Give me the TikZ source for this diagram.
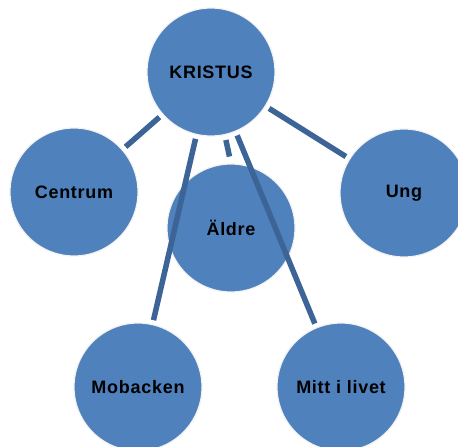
\documentclass[tikz,border=0pt]{standalone}
\usepackage{fontspec}
\setmainfont{Liberation Sans}
\definecolor{circfill}{HTML}{4F81BD}
\definecolor{linkcol}{HTML}{3C6496}
\begin{document}
\begin{tikzpicture}[x=1pt,y=-1pt,
  bubble/.style={circle,fill=circfill,draw=black!5,line width=1.2pt,minimum size=128pt,inner sep=0pt,
    font=\addfontfeatures{LetterSpace=4}\fontsize{18}{21}\selectfont\bfseries,text=black},
  link/.style={draw=linkcol,line width=5.5pt,shorten <=4pt,shorten >=4pt}]
\useasboundingbox (0,0) rectangle (458,447);
\clip (0,0) rectangle (458,447);
\node[bubble] (K) at (211,72) {KRISTUS};
\node[bubble] (C) at (74,192) {Centrum};
\node[bubble] (A) at (231,228) {Äldre};
\node[bubble] (U) at (404,193) {Ung};
\node[bubble] (M) at (138,387) {Mobacken};
\node[bubble] (L) at (341,387) {Mitt i livet};
\draw[link] (K) -- (C);
\draw[link] (K) -- (U);
\draw[link,shorten <=5pt,shorten >=7pt] (K) -- (A.north);
\draw[link] (K) -- (M);
\draw[link] (K) -- (L);
\end{tikzpicture}
\end{document}
